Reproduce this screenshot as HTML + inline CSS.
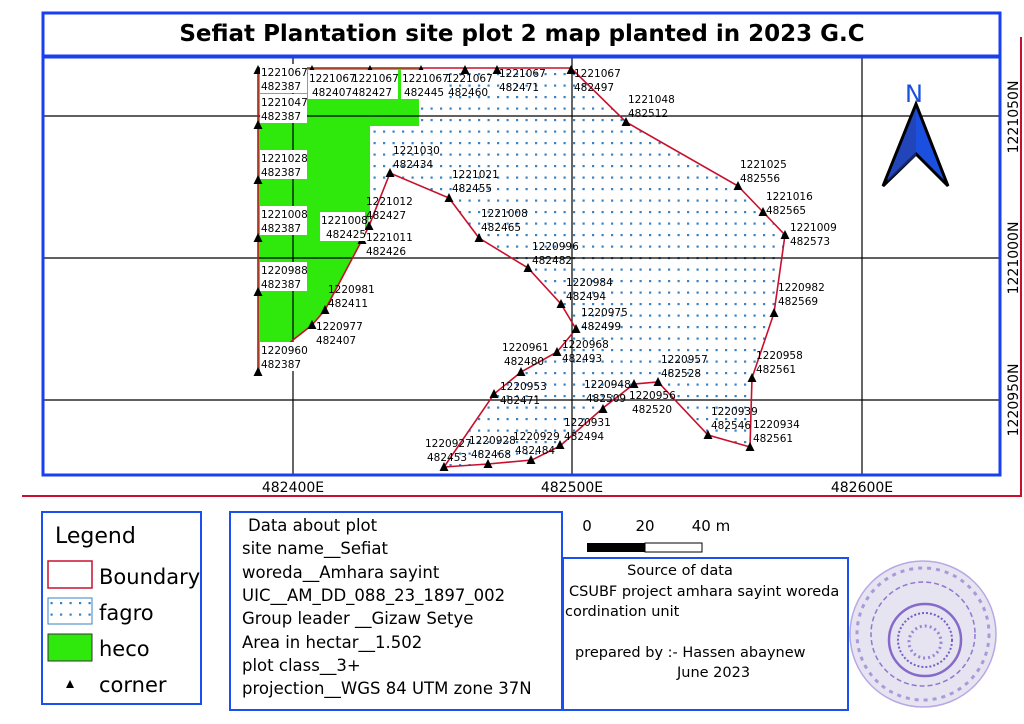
<!DOCTYPE html>
<html><head><meta charset="utf-8"><style>
html,body{margin:0;padding:0;background:#fff;}
svg{display:block;}
</style></head><body>
<svg width="1024" height="724" viewBox="0 0 1024 724" xmlns="http://www.w3.org/2000/svg">
<defs>
<pattern id="dots" x="0" y="0" width="9.5" height="11.5" patternUnits="userSpaceOnUse">
<rect x="3" y="4" width="2.2" height="2.2" fill="#3a82c4"/>
</pattern>
<path id="tri" d="M0,-5 L4.5,4 L-4.5,4 Z" fill="#000"/>
</defs>
<rect width="1024" height="724" fill="#fff"/>

<polygon fill="url(#dots)" points="419,68 571,68 626,122 738,186 763,212 785,235 774,313 752,378 750,447 708,435 658,382 634,384 603,408 560,446 532,460 488,464 444,467 494,394 521,372 557,352 576,329 561,304 528,268 479,238 449,198 390,173 370,200 370,126 419,126"/>
<polygon fill="#2fe80c" points="258,68 419,68 419,126 370,126 370,215 362,240 325,310 312,325 293,340 258,372"/>

<g stroke="#000" stroke-width="1.2">
<line x1="293" y1="58" x2="293" y2="475"/>
<line x1="572" y1="58" x2="572" y2="475"/>
<line x1="862" y1="58" x2="862" y2="475"/>
<line x1="43" y1="116" x2="1000" y2="116"/>
<line x1="43" y1="258" x2="1000" y2="258"/>
<line x1="43" y1="400" x2="1000" y2="400"/>
</g>

<polygon fill="none" stroke="#c8102e" stroke-width="1.6" points="258,68 571,68 626,122 738,186 763,212 785,235 774,313 752,378 750,447 708,435 658,382 634,384 603,408 560,446 532,460 488,464 444,467 494,394 521,372 557,352 576,329 561,304 528,268 479,238 449,198 390,173 369,226 362,240 325,310 312,325 293,340 258,372"/>

<g>
<use href="#tri" x="258" y="70"/><use href="#tri" x="258" y="125"/><use href="#tri" x="258" y="180"/>
<use href="#tri" x="258" y="238"/><use href="#tri" x="258" y="292"/><use href="#tri" x="258" y="372"/>
<use href="#tri" x="312" y="70"/><use href="#tri" x="370" y="70"/><use href="#tri" x="421" y="70"/>
<use href="#tri" x="465" y="70"/><use href="#tri" x="497" y="70"/><use href="#tri" x="571" y="70"/>
<use href="#tri" x="626" y="122"/><use href="#tri" x="738" y="186"/><use href="#tri" x="763" y="212"/>
<use href="#tri" x="785" y="235"/><use href="#tri" x="774" y="313"/><use href="#tri" x="752" y="378"/>
<use href="#tri" x="750" y="447"/><use href="#tri" x="708" y="435"/><use href="#tri" x="658" y="382"/>
<use href="#tri" x="634" y="384"/><use href="#tri" x="603" y="409"/><use href="#tri" x="560" y="445"/>
<use href="#tri" x="531" y="460"/><use href="#tri" x="488" y="464"/><use href="#tri" x="444" y="467"/>
<use href="#tri" x="494" y="394"/><use href="#tri" x="521" y="372"/><use href="#tri" x="557" y="352"/>
<use href="#tri" x="576" y="329"/><use href="#tri" x="561" y="304"/><use href="#tri" x="528" y="268"/>
<use href="#tri" x="479" y="238"/><use href="#tri" x="449" y="198"/><use href="#tri" x="390" y="173"/>
<use href="#tri" x="369" y="226"/><use href="#tri" x="362" y="240"/><use href="#tri" x="325" y="310"/>
<use href="#tri" x="312" y="325"/>
</g>

<g fill="#fff">
<rect x="260" y="64" width="47" height="29"/>
<rect x="260" y="94" width="47" height="29"/>
<rect x="260" y="150" width="47" height="29"/>
<rect x="260" y="206" width="47" height="29"/>
<rect x="260" y="262" width="47" height="29"/>
<rect x="260" y="342" width="47" height="29"/>
<rect x="308" y="70" width="43" height="29"/>
<rect x="351" y="70" width="47" height="29"/>
<rect x="401" y="70" width="43" height="29"/>
<rect x="320" y="212" width="45" height="29"/>
</g>

<g font-family="'DejaVu Sans','Liberation Sans',sans-serif" font-size="10.5" fill="#000">
<text x="261" y="76">1221067</text><text x="261" y="90">482387</text>
<text x="261" y="106">1221047</text><text x="261" y="120">482387</text>
<text x="261" y="162">1221028</text><text x="261" y="176">482387</text>
<text x="261" y="218">1221008</text><text x="261" y="232">482387</text>
<text x="261" y="274">1220988</text><text x="261" y="288">482387</text>
<text x="261" y="354">1220960</text><text x="261" y="368">482387</text>
<text x="309" y="82">1221067</text><text x="312" y="96">482407</text>
<text x="352" y="82">1221067</text><text x="352" y="96">482427</text>
<text x="402" y="82">1221067</text><text x="404" y="96">482445</text>
<text x="446" y="82">1221067</text><text x="448" y="96">482460</text>
<text x="321" y="224">1221008</text><text x="326" y="238">482425</text>
<text x="499" y="77">1221067</text><text x="499" y="91">482471</text>
<text x="574" y="77">1221067</text><text x="574" y="91">482497</text>
<text x="628" y="103">1221048</text><text x="628" y="117">482512</text>
<text x="740" y="168">1221025</text><text x="740" y="182">482556</text>
<text x="766" y="200">1221016</text><text x="766" y="214">482565</text>
<text x="790" y="231">1221009</text><text x="790" y="245">482573</text>
<text x="778" y="291">1220982</text><text x="778" y="305">482569</text>
<text x="756" y="359">1220958</text><text x="756" y="373">482561</text>
<text x="753" y="428">1220934</text><text x="753" y="442">482561</text>
<text x="711" y="415">1220939</text><text x="711" y="429">482546</text>
<text x="661" y="363">1220957</text><text x="661" y="377">482528</text>
<text x="629" y="399">1220956</text><text x="632" y="413">482520</text>
<text x="584" y="388">1220948</text><text x="586" y="402">482509</text>
<text x="564" y="426">1220931</text><text x="564" y="440">482494</text>
<text x="513" y="440">1220929</text><text x="515" y="454">482484</text>
<text x="469" y="444">1220928</text><text x="471" y="458">482468</text>
<text x="425" y="447">1220927</text><text x="427" y="461">482453</text>
<text x="500" y="390">1220953</text><text x="500" y="404">482471</text>
<text x="502" y="351">1220961</text><text x="504" y="365">482480</text>
<text x="562" y="348">1220968</text><text x="562" y="362">482493</text>
<text x="581" y="316">1220975</text><text x="581" y="330">482499</text>
<text x="566" y="286">1220984</text><text x="566" y="300">482494</text>
<text x="532" y="250">1220996</text><text x="532" y="264">482482</text>
<text x="481" y="217">1221008</text><text x="481" y="231">482465</text>
<text x="452" y="178">1221021</text><text x="452" y="192">482455</text>
<text x="393" y="154">1221030</text><text x="393" y="168">482434</text>
<text x="366" y="205">1221012</text><text x="366" y="219">482427</text>
<text x="366" y="241">1221011</text><text x="366" y="255">482426</text>
<text x="328" y="293">1220981</text><text x="328" y="307">482411</text>
<text x="316" y="330">1220977</text><text x="316" y="344">482407</text>
</g>

<text x="914" y="102" text-anchor="middle" font-family="'DejaVu Sans','Liberation Sans',sans-serif" font-size="24" fill="#1a4fe0">N</text>
<polygon points="916,104 883,186 916,154 948,186" fill="#1a4fe0" stroke="#000" stroke-width="3" stroke-linejoin="miter"/>
<polygon points="916,108 887,182 916,156" fill="#2a3fa0" opacity="0.6"/>

<rect x="43" y="13" width="957" height="462" fill="none" stroke="#1a3ff0" stroke-width="3"/>
<line x1="43" y1="56.5" x2="1000" y2="56.5" stroke="#1a3ff0" stroke-width="4"/>
<text x="522" y="41" text-anchor="middle" font-family="'DejaVu Sans','Liberation Sans',sans-serif" font-weight="bold" font-size="23" fill="#000">Sefiat Plantation site plot 2 map planted in 2023 G.C</text>
<polyline points="22,496 1021,496 1021,37" fill="none" stroke="#c8102e" stroke-width="2"/>

<g font-family="'DejaVu Sans','Liberation Sans',sans-serif" font-size="14" fill="#000">
<text x="293" y="492" text-anchor="middle">482400E</text>
<text x="572" y="492" text-anchor="middle">482500E</text>
<text x="862" y="492" text-anchor="middle">482600E</text>
<text transform="translate(1018,117) rotate(-90)" text-anchor="middle">1221050N</text>
<text transform="translate(1018,258) rotate(-90)" text-anchor="middle">1221000N</text>
<text transform="translate(1018,400) rotate(-90)" text-anchor="middle">1220950N</text>
</g>

<rect x="42" y="512" width="159" height="192" fill="#fff" stroke="#1a4ff0" stroke-width="2"/>
<g font-family="'DejaVu Sans','Liberation Sans',sans-serif" fill="#000">
<text x="55" y="543" font-size="22">Legend</text>
<rect x="48" y="561" width="44" height="27" fill="#fff" stroke="#c8102e" stroke-width="1.5"/>
<text x="99" y="584" font-size="21">Boundary</text>
<rect x="48" y="598" width="44" height="26" fill="url(#dots)" stroke="#3a82c4" stroke-width="1"/>
<text x="99" y="620" font-size="21">fagro</text>
<rect x="48" y="634" width="44" height="27" fill="#2fe80c" stroke="#333" stroke-width="1"/>
<text x="99" y="656" font-size="21">heco</text>
<path d="M70,680 L74,688 L66,688 Z" fill="#000"/>
<text x="99" y="692" font-size="21">corner</text>
</g>

<rect x="230" y="512" width="332" height="198" fill="#fff" stroke="#1a4ff0" stroke-width="2"/>
<g font-family="'DejaVu Sans','Liberation Sans',sans-serif" font-size="16.5" fill="#000">
<text x="248" y="531">Data about plot</text>
<text x="242" y="554">site name__Sefiat</text>
<text x="242" y="578">woreda__Amhara sayint</text>
<text x="242" y="601">UIC__AM_DD_088_23_1897_002</text>
<text x="242" y="624">Group leader __Gizaw Setye</text>
<text x="242" y="648">Area in hectar__1.502</text>
<text x="242" y="671">plot class__3+</text>
<text x="242" y="694">projection__WGS 84 UTM zone 37N</text>
</g>

<g font-family="'DejaVu Sans','Liberation Sans',sans-serif" font-size="15" fill="#000">
<text x="587" y="531" text-anchor="middle">0</text>
<text x="645" y="531" text-anchor="middle">20</text>
<text x="711" y="531" text-anchor="middle">40 m</text>
</g>
<rect x="587" y="543" width="58" height="9" fill="#000"/>
<rect x="645" y="543" width="57" height="9" fill="#fff" stroke="#000" stroke-width="1"/>

<rect x="563" y="558" width="285" height="152" fill="#fff" stroke="#1a4ff0" stroke-width="2"/>
<g font-family="'DejaVu Sans','Liberation Sans',sans-serif" font-size="14.5" fill="#000">
<text x="680" y="575" text-anchor="middle">Source of data</text>
<text x="569" y="596">CSUBF project amhara sayint woreda</text>
<text x="565" y="616">cordination unit</text>
<text x="575" y="657">prepared by :- Hassen abaynew</text>
<text x="677" y="677">June 2023</text>
</g>

<g fill="none" stroke="#7a5cc8">
<circle cx="923" cy="634" r="73" fill="#e6e4f0" stroke="#b8a8e4" stroke-width="1.5"/>
<circle cx="923" cy="634" r="66" stroke-width="3" stroke-dasharray="4 5" opacity="0.55"/>
<circle cx="923" cy="634" r="52" stroke-width="1.5" stroke-dasharray="5 3" opacity="0.8"/>
<circle cx="925" cy="640" r="36" stroke-width="2.5" opacity="0.9"/>
<circle cx="925" cy="640" r="27" stroke-width="2" stroke-dasharray="2 2"/>
<circle cx="925" cy="642" r="16" stroke-width="3" stroke-dasharray="2 3" opacity="0.7"/>
</g>
</svg>
</body></html>
